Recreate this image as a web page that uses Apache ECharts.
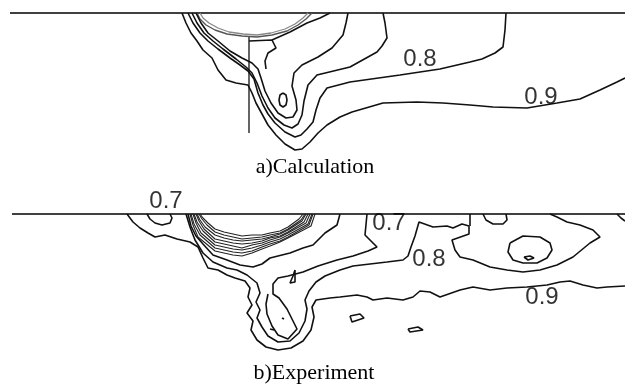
<!DOCTYPE html>
<html>
<head>
<meta charset="utf-8">
<script src="https://cdn.jsdelivr.net/npm/echarts@6/dist/echarts.min.js"></script>
<style>
  html, body { margin: 0; background: #fff; }
  #chart { width: 625px; height: 386px; }
</style>
</head>
<body>
<div id="chart"></div>
<script>
// x = horizontal position, y = depth below the surface line (both in panel units)

// ---- a) Calculation ----
const calcSurface = [[10, 0], [625, 0]];
const calcProbe = [[249, 23], [249, 120]];
const calcArcOuter = [[197, 0], [200, 6], [206, 12], [215, 17], [227, 21], [242, 23], [257, 24], [272, 22], [287, 18], [298, 12], [306, 6], [312, 0]];
const calcArcInner = [[200, 0], [203, 5], [209, 10], [218, 15], [229, 19], [243, 21], [257, 22], [271, 20], [285, 16], [295, 11], [303, 5], [308, 0]];
const calc09 = [[182, 0], [186, 10], [191, 20], [197, 28], [203, 37], [212, 45], [218, 57], [226, 67], [236, 70], [248, 72], [252, 80], [256, 90], [262, 101], [268, 112], [276, 122], [285, 131], [295, 137], [302, 136], [310, 129], [318, 120], [327, 112], [340, 104], [352, 99], [383, 90], [417, 89], [443, 90], [470, 92], [493, 94], [527, 95], [557, 90], [580, 86], [600, 77], [617, 69], [625, 65]];
const calc08 = [[188, 0], [193, 10], [200, 20], [208, 28], [218, 36], [230, 45], [240, 52], [248, 58], [254, 66], [258, 80], [263, 92], [268, 101], [275, 110], [285, 119], [295, 124], [301, 122], [307, 116], [313, 109], [316, 97], [320, 85], [327, 75], [350, 69], [400, 62], [440, 56], [470, 49], [482, 46], [495, 40], [503, 34], [505, 17], [506, 0]];
const calc07 = [[192, 0], [197, 10], [204, 20], [213, 28], [223, 36], [236, 46], [246, 54], [252, 60], [257, 70], [262, 83], [268, 95], [275, 105], [284, 112], [292, 115], [298, 111], [302, 102], [304, 88], [308, 72], [317, 62], [350, 54], [377, 39], [382, 33], [387, 25], [385, 10], [383, 0]];
const calc06 = [[196, 0], [201, 10], [208, 20], [218, 28], [230, 38], [242, 45], [252, 50], [258, 56], [261, 65], [265, 78], [271, 90], [278, 100], [286, 105], [293, 104], [297, 97], [296, 87], [292, 73], [294, 60], [302, 52], [318, 44], [332, 35], [343, 22], [346, 10], [348, 0]];
const calcNotch = [[249, 28], [272, 27], [276, 35], [268, 40], [265, 48], [266, 56]];
const calcShelf = [[272, 27], [290, 19], [307, 10], [320, 5], [330, 0]];
const calcEye = [[283, 80], [286, 82], [287, 87], [286, 92], [283, 94], [280, 92], [279, 87], [280, 82], [283, 80]];
const calcLabels = [['0.8', 420, 46], ['0.9', 541, 84]];

// ---- b) Experiment ----
const expSurface = [[12, 0], [625, 0]];
const expBowl = [
  [[200, 0], [203, 4], [208, 9], [215, 15], [224, 18], [233, 20], [242, 22], [252, 21], [262, 21], [270, 19], [280, 17], [288, 13], [299, 5], [303, 0]],
  [[199, 0], [202, 5], [207, 11], [215, 18], [224, 21], [233, 23], [242, 25], [252, 24], [262, 23], [270, 21], [280, 19], [288, 15], [301, 6], [305, 0]],
  [[197, 0], [200, 6], [205, 13], [215, 21], [224, 24], [233, 26], [242, 27], [252, 26], [262, 25], [270, 23], [280, 20], [288, 16], [302, 7], [306, 0]],
  [[196, 0], [199, 7], [204, 15], [215, 25], [224, 27], [233, 29], [242, 30], [252, 29], [262, 27], [270, 24], [280, 22], [288, 18], [304, 8], [308, 0]],
  [[194, 0], [197, 8], [203, 17], [215, 28], [224, 30], [233, 32], [242, 34], [252, 31], [262, 29], [270, 26], [280, 23], [288, 19], [306, 9], [310, 0]],
  [[193, 0], [196, 9], [201, 19], [215, 31], [224, 33], [233, 35], [242, 36], [252, 34], [262, 31], [270, 28], [280, 25], [288, 21], [308, 10], [312, 0]],
  [[191, 0], [194, 10], [200, 21], [215, 34], [224, 36], [233, 38], [242, 39], [252, 37], [262, 33], [270, 30], [280, 27], [288, 23], [309, 11], [313, 0]],
  [[190, 0], [193, 11], [198, 23], [215, 37], [224, 39], [233, 41], [242, 42], [252, 39], [262, 35], [270, 32], [280, 28], [288, 24], [311, 12], [315, 0]]
];
const exp09 = [[127, 0], [133, 8], [140, 14], [148, 19], [155, 23], [165, 21], [177, 25], [190, 28], [198, 33], [203, 44], [208, 54], [218, 56], [227, 61], [235, 64], [245, 67], [250, 74], [248, 83], [252, 91], [247, 99], [253, 107], [251, 116], [257, 126], [266, 133], [278, 136], [291, 134], [303, 127], [311, 116], [314, 103], [312, 93], [316, 86], [330, 84], [340, 83], [357, 81], [367, 83], [373, 86], [387, 84], [403, 86], [413, 83], [420, 77], [430, 78], [440, 83], [460, 76], [473, 73], [490, 76], [507, 74], [527, 73], [547, 71], [560, 68], [570, 67], [583, 71], [597, 74], [607, 73], [625, 72]];
const exp08 = [[186, 0], [190, 13], [195, 26], [203, 39], [213, 48], [227, 54], [237, 56], [247, 61], [257, 69], [260, 79], [256, 88], [260, 96], [257, 104], [262, 113], [268, 122], [278, 128], [290, 127], [299, 119], [305, 107], [307, 95], [305, 86], [309, 77], [316, 68], [325, 62], [340, 56], [353, 52], [370, 50], [387, 48], [403, 46], [408, 42], [411, 33], [415, 22], [419, 8], [433, 13], [447, 12], [453, 14], [462, 10], [469, 12], [469, 20], [452, 26], [455, 36], [460, 43], [473, 46], [490, 53], [507, 56], [523, 58], [540, 56], [557, 51], [573, 43], [590, 29], [600, 23], [593, 16], [580, 11], [567, 8], [557, 3], [550, 0]];
const exp07a = [[188, 0], [191, 12], [196, 22], [203, 30], [213, 41], [227, 46], [240, 51], [253, 53], [262, 50], [270, 44], [290, 39], [303, 34], [313, 31], [320, 24], [325, 19], [337, 11], [340, 0]];
const exp07b = [[367, 0], [365, 21], [377, 33], [368, 37], [353, 42], [337, 46], [318, 52], [303, 58], [288, 62], [278, 64], [273, 70], [273, 80], [279, 84], [287, 95], [297, 115], [288, 125], [278, 121], [272, 112], [267, 100], [266, 90], [268, 80]];
const expStub = [[470, 0], [470, 12]];
const expDomeLeft = [[147, 0], [150, 5], [155, 9], [162, 11], [170, 9], [172, 4], [170, 0]];
const expDomeRight = [[483, 0], [486, 6], [493, 10], [503, 10], [507, 6], [506, 0]];
const expEdge = [[617, 0], [621, 4], [625, 7]];
const expRing = [[510, 29], [523, 22], [540, 23], [550, 29], [552, 36], [547, 44], [537, 49], [523, 49], [513, 46], [508, 38], [510, 29]];
const expSpeck = [[524, 43], [530, 42], [534, 44], [528, 46], [524, 43]];
const expIsleA = [[350, 102], [360, 100], [364, 104], [352, 108], [350, 102]];
const expIsleB = [[408, 115], [418, 113], [423, 116], [410, 118], [408, 115]];
const expSliver = [[295, 56], [297, 58], [295, 68], [290, 69], [293, 62], [295, 56]];
const expDot = [[282, 104], [284, 105]];
const expDash = [[270, 115], [274, 116]];
const expLabels = [['0.7', 166, -13], ['0.7', 389, 9], ['0.8', 429, 45], ['0.9', 542, 83]];

const INK = '#111';

function contour(data, g, color, width) {
  return {
    type: 'line', xAxisIndex: g, yAxisIndex: g, data: data,
    symbol: 'none', clip: false, silent: true, animation: false,
    lineStyle: { color: color || INK, width: width || 1.6 }
  };
}

function labels(list, g) {
  return {
    type: 'scatter', xAxisIndex: g, yAxisIndex: g, clip: false, silent: true,
    symbolSize: 1, itemStyle: { color: 'rgba(0,0,0,0)' },
    data: list.map(d => ({ name: d[0], value: [d[1], d[2]] })),
    label: {
      show: true, position: 'inside', formatter: '{b}',
      fontFamily: 'Liberation Sans', fontSize: 24, color: '#000'
    }
  };
}

const chart = echarts.init(document.getElementById('chart'), null, { renderer: 'canvas' });

const series = [
  contour(calcSurface, 0, '#000', 1.6),
  contour(calcProbe, 0, INK, 1.3),
  contour(calcArcOuter, 0, '#555', 1.4),
  contour(calcArcInner, 0, '#888', 1.3),
  contour(calc09, 0),
  contour(calc08, 0),
  contour(calc07, 0),
  contour(calc06, 0),
  contour(calcNotch, 0),
  contour(calcShelf, 0),
  contour(calcEye, 0),
  labels(calcLabels, 0),

  contour(expSurface, 1, '#000', 1.6),
  contour(exp09, 1),
  contour(exp08, 1),
  contour(exp07a, 1),
  contour(exp07b, 1),
  contour(expStub, 1),
  contour(expDomeLeft, 1),
  contour(expDomeRight, 1),
  contour(expEdge, 1),
  contour(expRing, 1),
  contour(expSpeck, 1),
  contour(expIsleA, 1),
  contour(expIsleB, 1),
  contour(expSliver, 1),
  contour(expDot, 1),
  contour(expDash, 1),
  labels(expLabels, 1)
].concat(expBowl.map(b => contour(b, 1, '#222', 1.1)));

chart.setOption({
  backgroundColor: '#fff',
  animation: false,
  grid: [
    { left: 0, top: 13, width: 625, height: 150 },
    { left: 0, top: 194, width: 625, height: 170 }
  ],
  xAxis: [
    { gridIndex: 0, type: 'value', min: 0, max: 625, show: false },
    { gridIndex: 1, type: 'value', min: 0, max: 625, show: false }
  ],
  yAxis: [
    { gridIndex: 0, type: 'value', min: 0, max: 150, inverse: true, show: false },
    { gridIndex: 1, type: 'value', min: -20, max: 150, inverse: true, show: false }
  ],
  graphic: [
    { type: 'text', x: 315, y: 167, style: { text: 'a)Calculation', font: '22px "Liberation Serif"', fill: '#000', align: 'center', verticalAlign: 'middle' } },
    { type: 'text', x: 314, y: 373, style: { text: 'b)Experiment', font: '22px "Liberation Serif"', fill: '#000', align: 'center', verticalAlign: 'middle' } }
  ],
  series: series
});

window.addEventListener('resize', () => chart.resize());
</script>
</body>
</html>
